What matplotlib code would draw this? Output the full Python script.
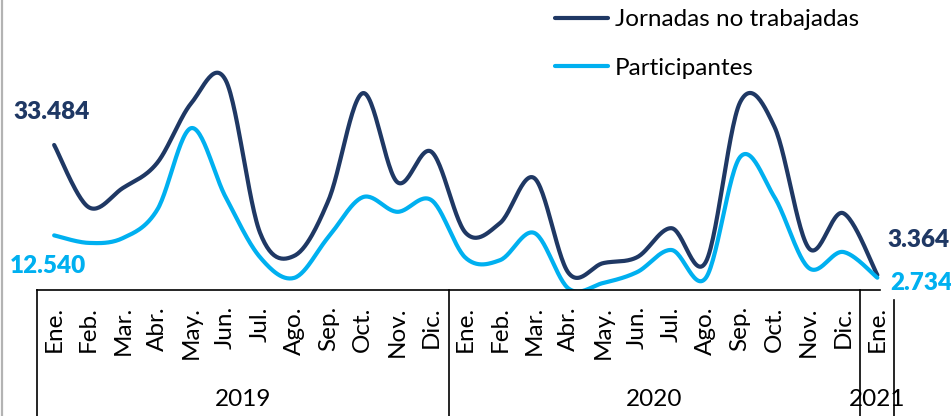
import numpy as np
import matplotlib
matplotlib.use("Agg")
import matplotlib.pyplot as plt
from matplotlib.lines import Line2D

plt.rcParams['font.family'] = ['Lato', 'DejaVu Sans']

# Data
months = ["Ene.", "Feb.", "Mar.", "Abr.", "May.", "Jun.", "Jul.", "Ago.", "Sep.", "Oct.", "Nov.", "Dic.",
          "Ene.", "Feb.", "Mar.", "Abr.", "May.", "Jun.", "Jul.", "Ago.", "Sep.", "Oct.", "Nov.", "Dic.",
          "Ene."]
years = ["2019", "2020", "2021"]
year_months = [12, 12, 1]
jornadas = [33484, 19100, 23500, 29300, 43200, 48500, 13200, 7800, 20700, 45500, 24900, 31900,
            13100, 15400, 25800, 3800, 6100, 7500, 14200, 6400, 43400, 37700, 9600, 17700, 3364]
participantes = [12540, 10800, 11900, 18400, 37400, 21400, 7500, 2700, 12200, 21400, 18000, 20700,
                 7300, 6800, 13100, 200, 1500, 4050, 9150, 2700, 30700, 21400, 5000, 8700, 2734]

dark = "#1F3864"
light = "#00B0F0"


def smooth(xs, ys, n=30):
  # Catmull-Rom style bezier, like Excel's smoothed line
  p = np.column_stack([xs, ys]).astype(float)
  p = np.vstack([p[0], p, p[-1]])
  out = []
  t = np.linspace(0, 1, n)[:, None]
  for i in range(1, len(p) - 2):
    p0, p1, p2, p3 = p[i - 1], p[i], p[i + 1], p[i + 2]
    c1 = p1 + (p2 - p0) / 6
    c2 = p2 - (p3 - p1) / 6
    seg = (1 - t) ** 3 * p1 + 3 * (1 - t) ** 2 * t * c1 + 3 * (1 - t) * t ** 2 * c2 + t ** 3 * p2
    out.append(seg if i == 1 else seg[1:])
  out = np.vstack(out)
  return out[:, 0], out[:, 1]


fig = plt.figure(figsize=(9.51, 4.16), dpi=100)
W, H = 951, 416
ax = fig.add_axes([37 / W, 1 - 289.5 / H, (894.5 - 37) / W, (289.5 - 20) / H])

x = np.arange(len(months))
sx, sy = smooth(x, jornadas)
ax.plot(sx, sy, color=dark, lw=3, solid_capstyle='round', label="Jornadas no trabajadas")
sx, sy = smooth(x, participantes)
ax.plot(sx, sy, color=light, lw=3, solid_capstyle='round', label="Participantes")

ax.set_xlim(-0.5, len(months) - 0.5)
ax.set_ylim(0, (289.5 - 20) / 0.004316)
for s in ["top", "left", "right"]:
  ax.spines[s].set_visible(False)
ax.spines["bottom"].set_bounds(-0.5, 24.08)
ax.spines["bottom"].set_linewidth(1.2)
ax.set_yticks([])
ax.set_xticks(x)
ax.set_xticklabels(months, rotation=90, fontsize=17.5)
ax.tick_params(axis='x', length=0, pad=12)
ax.patch.set_visible(False)

# group separators and year labels
trans = ax.get_xaxis_transform()
bottom = -(H - 289.5) / (289.5 - 20)
edges = np.concatenate([[0], np.cumsum(year_months)]) - 0.5
for i, e in enumerate(edges):
  top = 0 if i < len(edges) - 1 else -10.5 / (289.5 - 20)
  ax.add_line(Line2D([e, e], [top, bottom], transform=trans, color="black", lw=1.2, clip_on=False))
for i, yr in enumerate(years):
  cx = (edges[i] + edges[i + 1]) / 2
  ax.text(cx, -110 / (289.5 - 20), yr, transform=trans, ha="center", va="center", fontsize=17.5)

# data labels
lab = dict(fontsize=17.5, fontweight="heavy", ha="center", va="center", textcoords="offset points")
ax.annotate(f"{jornadas[0]:,}".replace(",", "."), (0, jornadas[0]), xytext=(-1.5, 24), color=dark, **lab)
ax.annotate(f"{participantes[0]:,}".replace(",", "."), (0, participantes[0]), xytext=(-4.5, -22), color=light, **lab)
ax.annotate(f"{jornadas[-1]:,}".replace(",", "."), (24, jornadas[-1]), xytext=(29.5, 25), color=dark, **lab)
ax.annotate(f"{participantes[-1]:,}".replace(",", "."), (24, participantes[-1]), xytext=(31.5, -4), color=light, **lab)

fig.legend(loc="upper left", bbox_to_anchor=(555 / W, 1 - 9 / H), frameon=False, fontsize=17.5,
           handlelength=2.2, handletextpad=0.25, labelspacing=1.15, borderpad=0, borderaxespad=0)

# grey left border
fig.add_artist(Line2D([1.5 / W, 1.5 / W], [0, 1], color="#b3b3b3", lw=1.6))

fig.savefig("out.png", dpi=100)
